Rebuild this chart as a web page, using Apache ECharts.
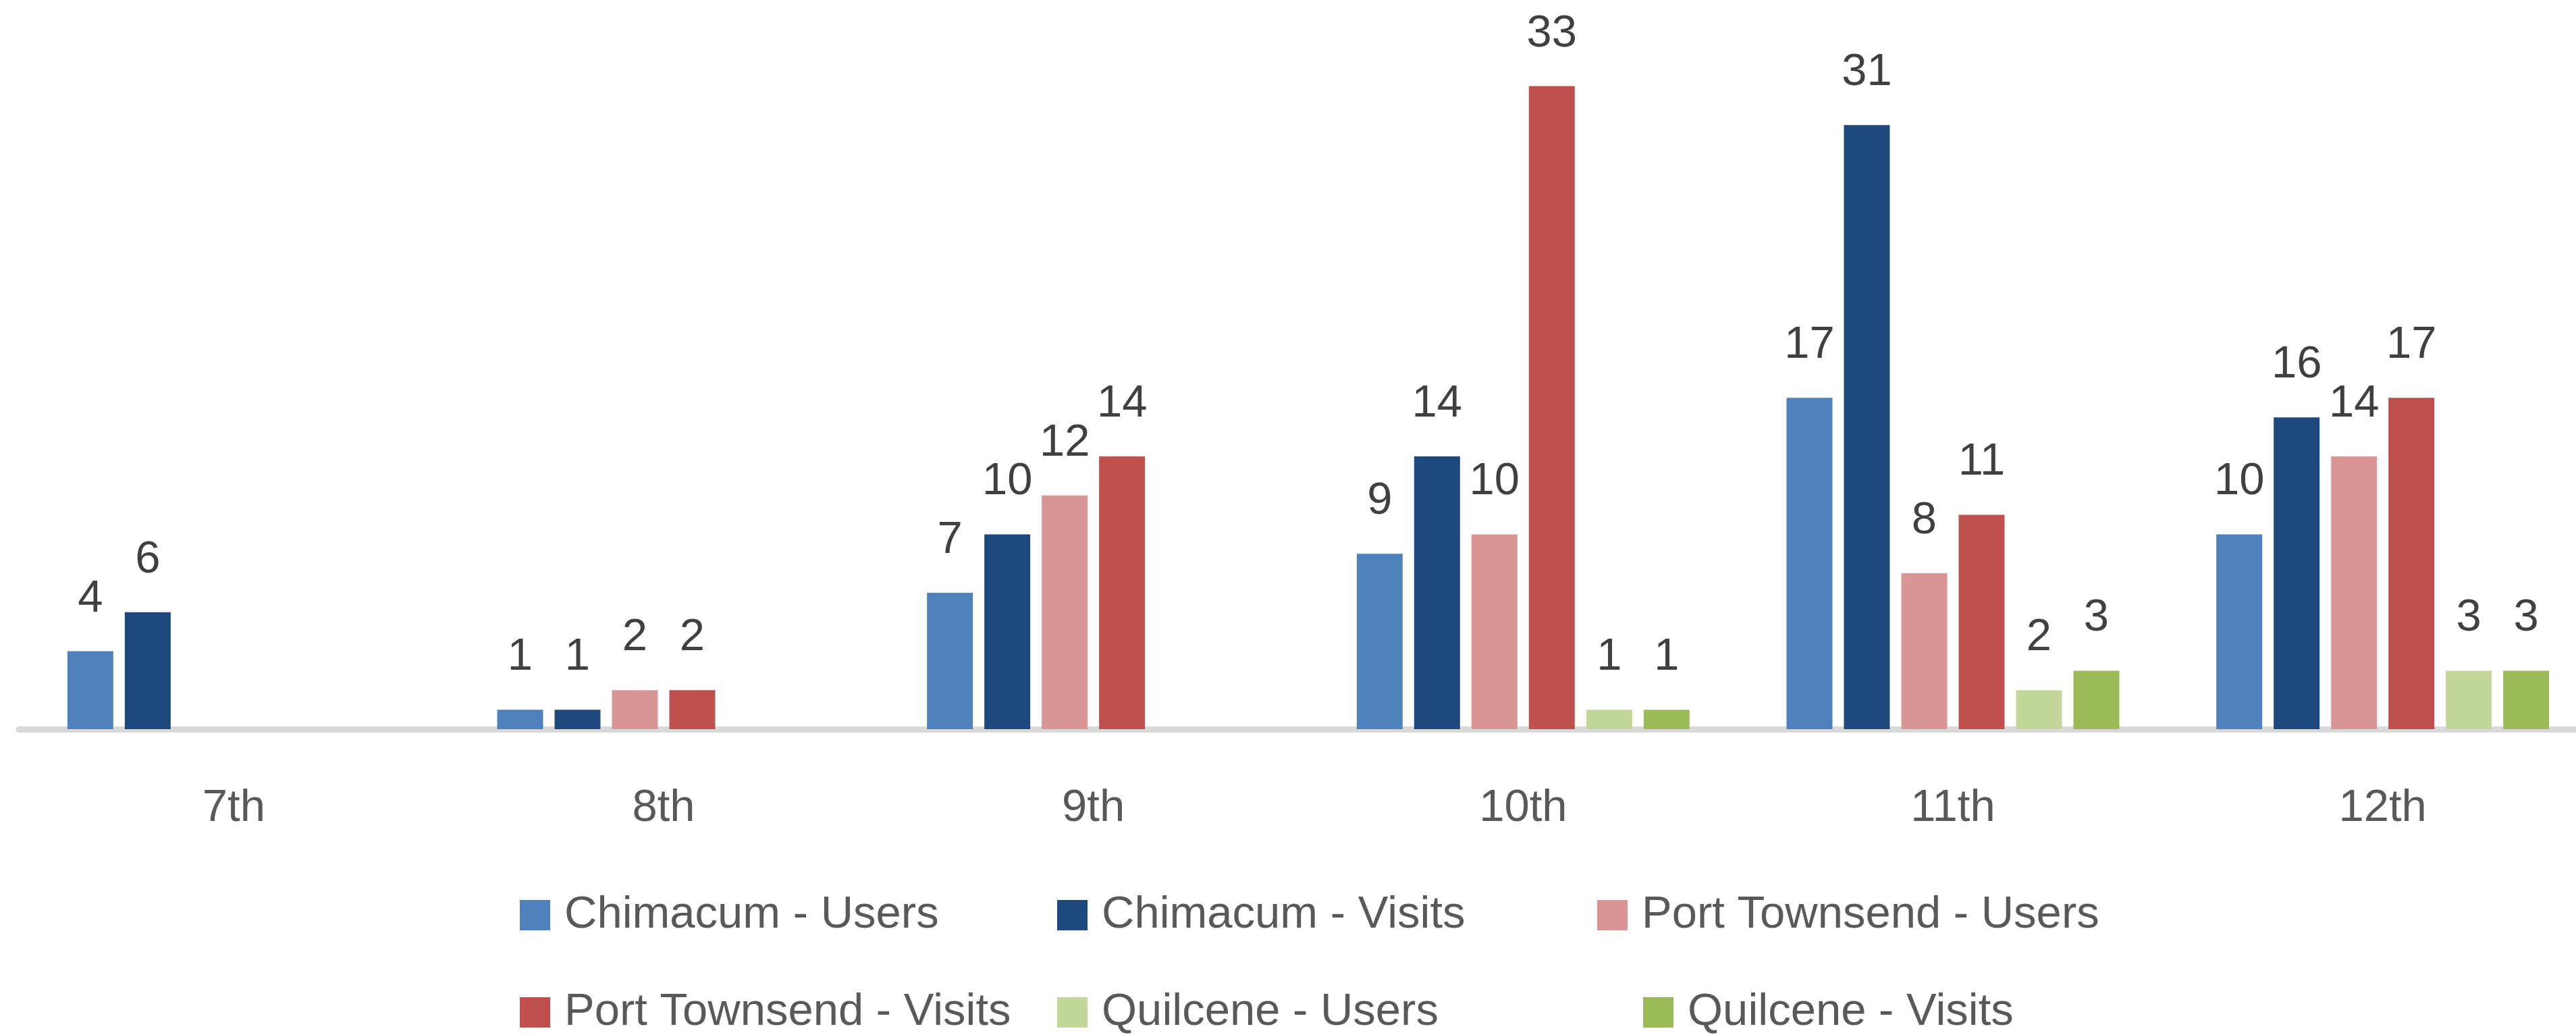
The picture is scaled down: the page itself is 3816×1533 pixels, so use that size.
<!DOCTYPE html>
<html>
<head>
<meta charset="utf-8">
<title>Users and visits by grade</title>
<script src="https://cdn.jsdelivr.net/npm/echarts@6/dist/echarts.min.js"></script>
<style>
  html, body { margin: 0; padding: 0; background: #fff; }
  #chart { width: 3816px; height: 1533px; }
</style>
</head>
<body>
<div id="chart"></div>
<script>
  // grades on the x axis
  var grades = ['7th', '8th', '9th', '10th', '11th', '12th'];

  // series values per grade (null = no bar)
  var chimacumUsers = [4, 1, 7, 9, 17, 10];
  var chimacumVisits = [6, 1, 10, 14, 31, 16];
  var portTownsendUsers = [null, 2, 12, 10, 8, 14];
  var portTownsendVisits = [null, 2, 14, 33, 11, 17];
  var quilceneUsers = [null, null, null, 1, 2, 3];
  var quilceneVisits = [null, null, null, 1, 3, 3];

  var seriesNames = ['Chimacum - Users', 'Chimacum - Visits', 'Port Townsend - Users',
    'Port Townsend - Visits', 'Quilcene - Users', 'Quilcene - Visits'];
  var seriesData = [chimacumUsers, chimacumVisits, portTownsendUsers,
    portTownsendVisits, quilceneUsers, quilceneVisits];
  var colors = ['#4f81bd', '#1f497d', '#da9694', '#c0504d', '#c4d79b', '#9bbb59'];

  var font = '"Liberation Sans", Arial, sans-serif';

  // legend item positions (two rows, like the excel legend)
  var legendPos = [
    { left: 770, top: 1322 }, { left: 1566, top: 1322 }, { left: 2366, top: 1322 },
    { left: 770, top: 1466 }, { left: 1566, top: 1466 }, { left: 2434, top: 1466 }
  ];

  var chart = echarts.init(document.getElementById('chart'));

  var series = [];
  var legends = [];
  for (var i = 0; i < seriesNames.length; i++) {
    series.push({
      name: seriesNames[i],
      type: 'bar',
      barWidth: 68,
      barGap: '25%',
      data: seriesData[i],
      itemStyle: { color: colors[i] },
      label: {
        show: true,
        position: 'top',
        distance: 44,
        fontFamily: font,
        fontSize: 67,
        color: '#404040'
      }
    });
    legends.push({
      data: [seriesNames[i]],
      left: legendPos[i].left,
      top: legendPos[i].top,
      padding: 0,
      icon: 'rect',
      itemWidth: 45,
      itemHeight: 45,
      selectedMode: false,
      textStyle: {
        fontFamily: font,
        fontSize: 67,
        color: '#595959',
        padding: [0, 0, 0, 16]
      }
    });
  }

  chart.setOption({
    backgroundColor: '#fff',
    animation: false,
    color: colors,
    legend: legends,
    grid: {
      left: 28,
      top: 41,
      width: 3820,
      height: 1039,
      containLabel: false,
      outerBoundsMode: 'none'
    },
    xAxis: {
      type: 'category',
      data: grades,
      offset: 4.5,
      axisTick: { show: false },
      axisLine: { lineStyle: { color: '#d9d9d9', width: 9 } },
      axisLabel: {
        margin: 80,
        fontFamily: font,
        fontSize: 67,
        color: '#595959'
      }
    },
    yAxis: {
      type: 'value',
      min: 0,
      max: 36,
      show: false,
      splitLine: { show: false }
    },
    series: series
  });
</script>
</body>
</html>
